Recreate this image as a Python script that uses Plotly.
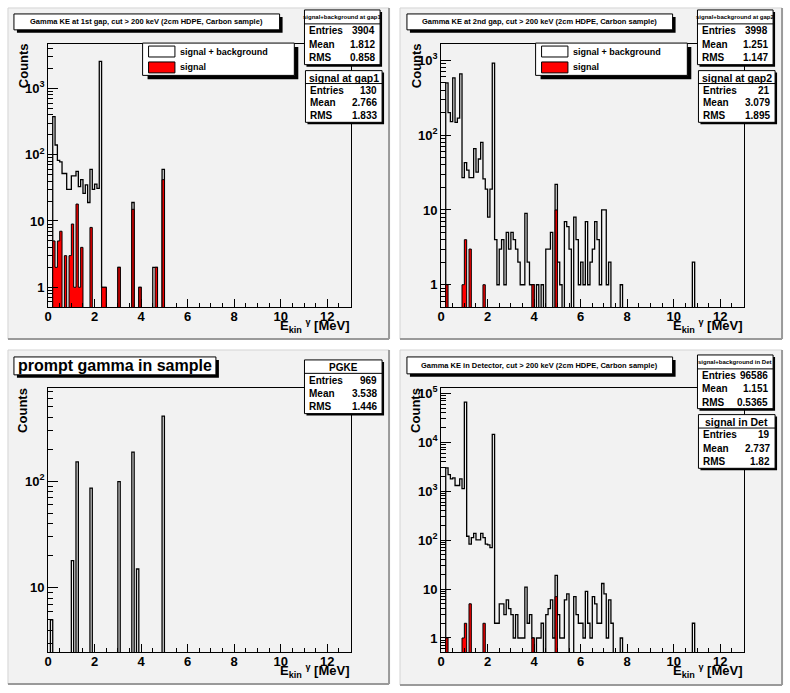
import numpy as np
import plotly.graph_objects as go

W, H = 790, 693
BIN_W = 0.1
N_BINS = 130
X_MAX = 13.0
FONT = "Liberation Sans, Arial, sans-serif"
BG = "#f2f2f2"

# ---------------- data: bin low edge [MeV] and counts ----------------
# gap 1 (top left)
GAP1_SB_E = [0.2, 0.3, 0.4, 0.5, 0.6, 0.7, 0.8, 0.9, 1.0, 1.1, 1.2, 1.3, 1.4, 1.5, 1.6, 1.7, 1.8, 1.9,
             2.0, 2.1, 2.2, 2.3, 2.4, 3.0, 3.6, 3.9, 4.5, 4.6, 4.9]
GAP1_SB_N = [376, 140, 82, 78, 52, 52, 30, 30, 48, 48, 56, 33, 42, 26, 35, 19, 60, 30,
             36, 31, 2550, 1, 1, 2, 19, 1, 2, 2, 60]
GAP1_SIG_E = [0.2, 0.3, 0.4, 0.5, 0.7, 0.9, 1.0, 1.1, 1.2, 1.3, 1.4, 1.8, 2.3, 2.4, 3.0, 3.6, 3.9, 4.6, 4.9]
GAP1_SIG_N = [5, 2, 5, 7, 3, 3, 9, 1, 18, 1, 4, 8, 1, 1, 2, 15, 1, 2, 42]

# gap 2 (top right)
GAP2_SB_E = [0.2, 0.3, 0.4, 0.5, 0.6, 0.7, 0.8, 0.9, 1.0, 1.1, 1.2, 1.3, 1.4, 1.5, 1.6, 1.7, 1.8, 1.9,
             2.0, 2.1, 2.2, 2.3, 2.4, 2.5, 2.6, 2.7, 2.8, 2.9, 3.0, 3.1, 3.2, 3.3, 3.4, 3.5, 3.6,
             3.7, 3.8, 3.9, 4.1, 4.3, 4.5, 4.6, 4.7, 4.9, 5.0, 5.1, 5.3, 5.4, 5.5, 5.7, 5.8,
             5.9, 6.0, 6.1, 6.2, 6.3, 6.4, 6.5, 6.6, 6.7, 6.8, 6.9, 7.0, 7.1, 7.2, 7.7, 10.8]
GAP2_SB_N = [500, 200, 152, 585, 148, 169, 660, 27, 43, 34, 27, 27, 66, 32, 48, 80, 26, 19,
             8, 19, 920, 4, 1, 3, 4, 1, 5, 3, 5, 4, 3, 2, 1, 1, 9,
             2, 1, 1, 1, 1, 3, 3, 5, 22, 2, 1, 7, 6, 3, 8, 4,
             1, 2, 1, 7, 1, 2, 3, 7, 4, 1, 10, 10, 1, 2, 1, 2]
GAP2_SIG_E = [0.2, 0.9, 1.0, 1.2, 1.8, 3.9, 4.9]
GAP2_SIG_N = [1, 1, 4, 3, 1, 1, 10]

# prompt gamma in sample (bottom left)
PG_E = [0.1, 1.0, 1.2, 1.8, 3.0, 3.6, 3.8, 4.9]
PG_N = [5, 18, 152, 86, 99, 187, 15, 407]

# detector (bottom right)
DET_SB_E = [0.2, 0.3, 0.4, 0.5, 0.6, 0.7, 0.8, 0.9, 1.0, 1.1, 1.2, 1.3, 1.4, 1.5, 1.6, 1.7, 1.8, 1.9,
            2.0, 2.1, 2.2, 2.3, 2.4, 2.5, 2.6, 2.7, 2.8, 2.9, 3.0, 3.1, 3.2, 3.3, 3.4, 3.5, 3.6,
            3.7, 3.8, 3.9, 4.1, 4.2, 4.3, 4.5, 4.6, 4.7, 4.8, 4.9, 5.0, 5.1, 5.2, 5.3, 5.4,
            5.7, 5.8, 5.9, 6.0, 6.1, 6.2, 6.3, 6.4, 6.5, 6.6, 6.7, 6.8, 6.9, 7.0, 7.1, 7.2,
            7.3, 7.7, 10.8]
DET_SB_N = [2990, 2190, 1780, 1880, 1310, 1310, 1780, 1135, 66000, 120, 83, 113, 138, 101, 101, 138, 113, 83,
            80, 70, 14500, 2, 2, 5, 5, 3, 6, 4, 3, 1, 3, 1, 1, 1, 11,
            2, 3, 1, 1, 1, 2, 3, 4, 6, 1, 19, 3, 1, 1, 6, 8,
            7, 3, 2, 2, 1, 9, 2, 1, 7, 5, 2, 2, 13, 8, 1, 6,
            2, 1, 2]
DET_SIG_E = [0.2, 0.9, 1.0, 1.2, 1.8, 3.9, 4.9]
DET_SIG_N = [1, 1, 2, 5, 2, 1, 7]

# texts
TITLES = ["Gamma KE at 1st gap, cut > 200 keV (2cm HDPE, Carbon sample)",
          "Gamma KE at 2nd gap, cut > 200 keV (2cm HDPE, Carbon sample)",
          "prompt gamma in sample",
          "Gamma KE in Detector, cut > 200 keV (2cm HDPE, Carbon sample)"]
STAT_LABELS = ["Entries", "Mean", "RMS"]
GAP1_SB_STATS = ["3904", "1.812", "0.858"]
GAP1_SIG_STATS = ["130", "2.766", "1.833"]
GAP2_SB_STATS = ["3998", "1.251", "1.147"]
GAP2_SIG_STATS = ["21", "3.079", "1.895"]
PG_STATS = ["969", "3.538", "1.446"]
DET_SB_STATS = ["96586", "1.151", "0.5365"]
DET_SIG_STATS = ["19", "2.737", "1.82"]
LEGEND_LABELS = ["signal + background", "signal"]

X_TICK_VALS = [0, 2, 4, 6, 8, 10, 12]
Y_TICK_VALS = [1, 10, 100, 1000, 10000, 100000]
Y_TICK_TEXT = ["1", "10", "10<sup>2</sup>", "10<sup>3</sup>", "10<sup>4</sup>", "10<sup>5</sup>"]


# ---------------- helpers ----------------
def px(x):
    return x / W


def py(y):
    return 1 - y / H


def full_counts(edges, counts):
    arr = np.zeros(N_BINS)
    for e, c in zip(edges, counts):
        arr[int(round(e / BIN_W))] = c
    return arr


def step_xy(arr, floor):
    xs, ys = [0.0], [floor]
    for i, c in enumerate(arr):
        xs.append(i * BIN_W)
        ys.append(c if c > 0 else floor)
    last = arr[-1] if arr[-1] > 0 else floor
    xs += [X_MAX, X_MAX]
    ys += [last, floor]
    return xs, ys


shapes = []
annotations = []


def rect(x0, y0, x1, y1, fill, line_color=None, lw=0, layer="above"):
    shapes.append(dict(type="rect", xref="paper", yref="paper",
                       x0=px(x0), x1=px(x1), y0=py(y1), y1=py(y0),
                       fillcolor=fill, layer=layer,
                       line=dict(color=line_color or fill, width=lw)))


def seg(x0, y0, x1, y1, color, lw=1, layer="above"):
    shapes.append(dict(type="line", xref="paper", yref="paper",
                       x0=px(x0), x1=px(x1), y0=py(y0), y1=py(y1), layer=layer,
                       line=dict(color=color, width=lw)))


def ann(x, y, text, size, xanchor="center", yanchor="middle", angle=0):
    annotations.append(dict(x=px(x), y=py(y), xref="paper", yref="paper", text=text,
                            showarrow=False, xanchor=xanchor, yanchor=yanchor,
                            textangle=angle, borderpad=0,
                            font=dict(family=FONT, size=size, color="black")))


def pad(x0, y0, x1, y1):
    rect(x0, y0, x1, y1, BG, layer="below")
    seg(x0, y0, x1, y0, "#d4d4d4", 1, "below")
    seg(x0, y0, x0, y1, "#d4d4d4", 1, "below")
    seg(x0, y1, x1, y1, "#9a9a9a", 2, "below")
    seg(x1, y0, x1, y1, "#9a9a9a", 2, "below")


def boxed_text(x0, y0, x1, y1, text, size, shadow=3):
    rect(x0 + shadow, y0 + shadow, x1 + shadow, y1 + shadow, "black")
    rect(x0, y0, x1, y1, "white", "black", 1)
    ann((x0 + x1) / 2, (y0 + y1) / 2, "<b>%s</b>" % text, size)


def stats_box(x0, y0, x1, y1, header, hsize, hh, values):
    rect(x0 + 2, y0 + 2, x1 + 2, y1 + 2, "black")
    rect(x0, y0, x1, y1, "white", "black", 1)
    ann((x0 + x1) / 2, y0 + hh / 2 + 0.5, "<b>%s</b>" % header, hsize)
    seg(x0, y0 + hh, x1, y0 + hh, "black", 1)
    rh = (y1 - y0 - hh) / 3.0
    for k, (lab, val) in enumerate(zip(STAT_LABELS, values)):
        yc = y0 + hh + (k + 0.5) * rh
        ann(x0 + 4, yc, "<b>%s</b>" % lab, 10, xanchor="left")
        ann(x1 - 4, yc, "<b>%s</b>" % val, 10, xanchor="right")


def legend_box(x0, y0):
    x1, y1 = x0 + 152.5, y0 + 32.5
    rect(x0 + 5, y0 + 4, x1 + 4, y1 + 4, "black")
    rect(x0, y0, x1, y1, "white", "black", 1)
    rect(x0 + 6, y0 + 3, x0 + 32.5, y0 + 14, "white", "black", 1)
    rect(x0 + 6, y0 + 19, x0 + 32.5, y0 + 30, "red", "black", 1)
    ann(x0 + 37, y0 + 8.5, "<b>%s</b>" % LEGEND_LABELS[0], 9, xanchor="left")
    ann(x0 + 37, y0 + 24.5, "<b>%s</b>" % LEGEND_LABELS[1], 9, xanchor="left")


# ---------------- panels ----------------
panels = [
    dict(ox=0, oy=0, xd=(44.3, 348.3), yd=(40, 305), ylo=0.5, yhi=10 ** 3.673,
         sbE=GAP1_SB_E, sbN=GAP1_SB_N, sgE=GAP1_SIG_E, sgN=GAP1_SIG_N),
    dict(ox=395, oy=0, xd=(439.3, 743.3), yd=(40, 305), ylo=0.5, yhi=10 ** 3.222,
         sbE=GAP2_SB_E, sbN=GAP2_SB_N, sgE=GAP2_SIG_E, sgN=GAP2_SIG_N),
    dict(ox=0, oy=345, xd=(44.3, 348.3), yd=(386.7, 651.7), ylo=2.5, yhi=10 ** 2.87,
         sbE=PG_E, sbN=PG_N, sgE=None, sgN=None),
    dict(ox=395, oy=345, xd=(439.3, 743.3), yd=(386.7, 651.7), ylo=10 ** -0.285, yhi=10 ** 5.10,
         sbE=DET_SB_E, sbN=DET_SB_N, sgE=DET_SIG_E, sgN=DET_SIG_N),
]

fig = go.Figure()
layout_axes = {}

for i, p in enumerate(panels):
    n = "" if i == 0 else str(i + 1)
    xa, ya = "x" + n, "y" + n
    floor = p["ylo"] / 100.0
    total = full_counts(p["sbE"], p["sbN"])
    xs, ys = step_xy(total, floor)
    fig.add_trace(go.Scatter(x=xs, y=ys, mode="lines",
                             line=dict(color="black", width=1.3, shape="hv"),
                             xaxis=xa, yaxis=ya, hoverinfo="skip", showlegend=False))
    if p["sgE"] is not None:
        sig = full_counts(p["sgE"], p["sgN"])
        sx, sy = step_xy(sig, floor)
        fig.add_trace(go.Scatter(x=sx, y=sy, mode="lines", fill="toself", fillcolor="#ff0000",
                                 line=dict(color="black", width=1, shape="hv"),
                                 xaxis=xa, yaxis=ya, hoverinfo="skip", showlegend=False))

    lo, hi = np.log10(p["ylo"]), np.log10(p["yhi"])
    minor = []
    for d in range(int(np.floor(lo)) - 1, int(np.ceil(hi)) + 1):
        for m in range(2, 10):
            v = m * 10.0 ** d
            if p["ylo"] < v < p["yhi"]:
                minor.append(v)
    yt = [v for v in Y_TICK_VALS if p["ylo"] <= v <= p["yhi"]]
    ytt = [Y_TICK_TEXT[Y_TICK_VALS.index(v)] for v in yt]

    tickfont = dict(family=FONT, size=13, color="black", weight="bold")
    layout_axes["xaxis" + n] = dict(
        domain=[px(p["xd"][0]), px(p["xd"][1])], range=[0, X_MAX], anchor=ya,
        tickmode="array", tickvals=X_TICK_VALS, ticks="inside", ticklen=8, tickwidth=1,
        tickcolor="black", showline=True, mirror=True, linecolor="black", linewidth=1,
        showgrid=False, zeroline=False, tickfont=tickfont, ticklabelstandoff=-3,
        minor=dict(ticks="inside", ticklen=4, dtick=0.5, tick0=0, tickcolor="black",
                   tickwidth=1, showgrid=False))
    layout_axes["yaxis" + n] = dict(
        domain=[py(p["yd"][1]), py(p["yd"][0])], type="log", range=[lo, hi], anchor=xa,
        tickmode="array", tickvals=yt, ticktext=ytt, ticks="inside", ticklen=10, tickwidth=1,
        tickcolor="black", showline=True, mirror=True, linecolor="black", linewidth=1,
        showgrid=False, zeroline=False, tickfont=tickfont,
        minor=dict(ticks="inside", ticklen=5, tickmode="array", tickvals=minor,
                   tickcolor="black", tickwidth=1, showgrid=False))

# pads
pad(4, 4, 387, 337)
pad(398, 4, 782, 337)
pad(4, 348, 387, 684)
pad(398, 348, 782, 685)

# axis titles
for p in panels:
    ox, oy = p["ox"], p["oy"]
    top = p["yd"][0]
    ann(ox + 19, top - 2, "<b>Counts</b>", 13, yanchor="top", angle=-90)
    ann(p["xd"][1], p["yd"][1] + 19, "<b>E<sub>kin</sub> <sup>γ</sup> [MeV]</b>", 13,
        xanchor="right")

# titles
boxed_text(10, 10, 277, 26, TITLES[0], 7.5)
boxed_text(405, 10, 672, 26, TITLES[1], 7.5)
boxed_text(10, 355, 213, 373, TITLES[2], 16)
boxed_text(405, 355, 672, 372, TITLES[3], 7.5)

# legends
legend_box(139.3, 39.3)
legend_box(534.3, 39.3)

# stats
stats_box(302, 6, 378, 61, "signal+background at gap1", 6, 14, GAP1_SB_STATS)
stats_box(303, 67, 380, 119, "signal at gap1", 10.5, 13, GAP1_SIG_STATS)
stats_box(697, 6, 773, 61, "signal+background at gap2", 6, 14, GAP2_SB_STATS)
stats_box(698, 67, 775, 119, "signal at gap2", 10.5, 13, GAP2_SIG_STATS)
stats_box(302, 358, 380, 412, "PGKE", 10, 13.5, PG_STATS)
stats_box(697, 353, 773, 407, "signal+background in Det", 6, 14, DET_SB_STATS)
stats_box(698, 413, 775, 467, "signal in Det", 10.5, 13.5, DET_SIG_STATS)

fig.update_layout(width=W, height=H, margin=dict(l=0, r=0, t=0, b=0),
                  paper_bgcolor="white", plot_bgcolor=BG, barmode="overlay",
                  showlegend=False, shapes=shapes, annotations=annotations,
                  font=dict(family=FONT, color="black"), **layout_axes)

fig.write_html("out.html", config={"displayModeBar": False, "staticPlot": True},
               post_script="document.body.style.margin='0px';"
                           "document.body.style.padding='0px';"
                           "document.body.style.overflow='hidden';")
